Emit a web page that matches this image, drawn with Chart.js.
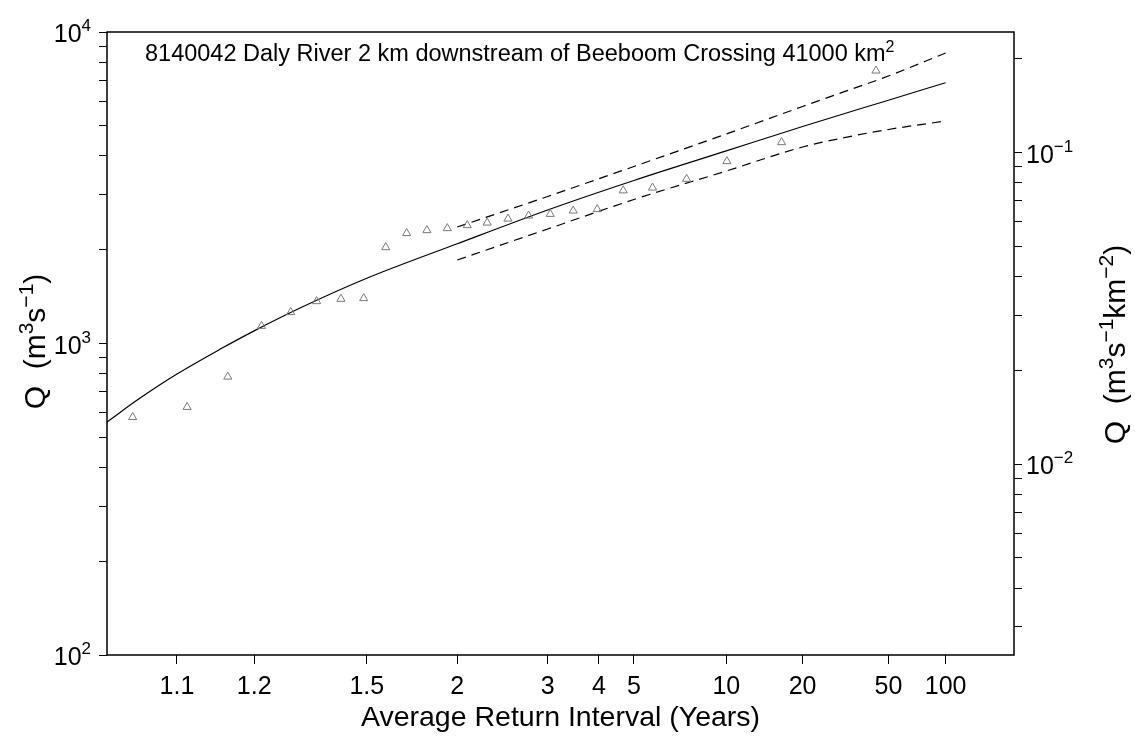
<!DOCTYPE html>
<html>
<head>
<meta charset="utf-8">
<script src="https://cdn.jsdelivr.net/npm/chart.js@4.4.1/dist/chart.umd.min.js"></script>
<style>
  html, body { margin: 0; padding: 0; background: #ffffff; }
  #wrap { width: 1135px; height: 736px; position: relative; }
</style>
</head>
<body>
<div id="wrap"><canvas id="c" width="1135" height="736"></canvas></div>
<script>
// Station details
const stationTitle = '8140042 Daly River 2 km downstream of Beeboom Crossing 41000 km';
const catchmentArea = 41000; // km^2

// Annual maxima (plotted at their average return intervals)
const pointARI = [1.065, 1.110, 1.159, 1.213, 1.272, 1.336, 1.408, 1.488, 1.579, 1.680,
                  1.794, 1.927, 2.079, 2.256, 2.472, 2.725, 3.040, 3.444, 3.960, 4.660,
                  5.678, 7.283, 10.05, 16.34, 43.4];
const pointQ   = [580, 625, 782, 1138, 1260, 1366, 1390, 1397, 2036, 2259,
                  2309, 2343, 2396, 2442, 2515, 2572, 2604, 2669, 2697, 3098,
                  3163, 3374, 3846, 4425, 7513];

// Fitted frequency curve
const fitARI = [1.05, 1.07, 1.1, 1.15, 1.2, 1.3, 1.5, 2, 3, 5, 10, 20, 50, 100];
const fitQ   = [560, 668, 798, 963, 1098, 1312, 1620, 2090, 2683, 3337, 4152, 4973, 6040, 6874];

// Confidence limits
const ciARI   = [2, 3, 5, 10, 20, 30, 50, 100];
const upperQ  = [2366, 2965, 3701, 4706, 5766, 6399, 7224, 8562];
const lowerQ  = [1854, 2331, 2900, 3579, 4273, 4567, 4864, 5180];

// Axis ticks
const xTickARI = [1.1, 1.2, 1.5, 2, 3, 4, 5, 10, 20, 50, 100];
const xTickLabels = ['1.1', '1.2', '1.5', '2', '3', '4', '5', '10', '20', '50', '100'];
const xRangeARI = [1.05, 250];
const qMajor = [100, 1000, 10000];
const qMajorExp = ['2', '3', '4'];
const qMinor = [200, 300, 400, 500, 600, 700, 800, 900, 2000, 3000, 4000, 5000, 6000, 7000, 8000, 9000];
const qsMajor = [0.01, 0.1];
const qsMajorExp = ['\u22122', '\u22121'];
const qsMinor = [0.003, 0.004, 0.005, 0.006, 0.007, 0.008, 0.009,
                 0.02, 0.03, 0.04, 0.05, 0.06, 0.07, 0.08, 0.09, 0.2];

// Inverse standard normal CDF (Acklam)
function qnorm(p) {
  const a = [-3.969683028665376e+01, 2.209460984245205e+02, -2.759285104469687e+02,
             1.383577518672690e+02, -3.066479806614716e+01, 2.506628277459239e+00];
  const b = [-5.447609879822406e+01, 1.615858368580409e+02, -1.556989798598866e+02,
             6.680131188771972e+01, -1.328068155288572e+01];
  const c = [-7.784894002430293e-03, -3.223964580411365e-01, -2.400758277161838e+00,
             -2.549732539343734e+00, 4.374664141464968e+00, 2.938163982698783e+00];
  const d = [7.784695709041462e-03, 3.224671290700398e-01, 2.445134137142996e+00,
             3.754408661907416e+00];
  const plow = 0.02425, phigh = 1 - plow;
  let q, r;
  if (p < plow) {
    q = Math.sqrt(-2 * Math.log(p));
    return (((((c[0]*q + c[1])*q + c[2])*q + c[3])*q + c[4])*q + c[5]) /
           ((((d[0]*q + d[1])*q + d[2])*q + d[3])*q + 1);
  }
  if (p <= phigh) {
    q = p - 0.5; r = q * q;
    return (((((a[0]*r + a[1])*r + a[2])*r + a[3])*r + a[4])*r + a[5]) * q /
           (((((b[0]*r + b[1])*r + b[2])*r + b[3])*r + b[4])*r + 1);
  }
  q = Math.sqrt(-2 * Math.log(1 - p));
  return -(((((c[0]*q + c[1])*q + c[2])*q + c[3])*q + c[4])*q + c[5]) /
          ((((d[0]*q + d[1])*q + d[2])*q + d[3])*q + 1);
}
// Average return interval -> normal probability axis coordinate
const ariToZ = t => qnorm(1 - 1 / t);
const toXY = (ari, q) => ari.map((t, i) => ({ x: ariToZ(t), y: q[i] }));

const FONT = '"Liberation Sans", Arial, Helvetica, sans-serif';

// Draws a run of text pieces, some of them superscripts
function richWidth(ctx, parts, size, supSize) {
  let w = 0;
  for (const p of parts) {
    ctx.font = (p.sup ? supSize : size) + 'px ' + FONT;
    w += ctx.measureText(p.t).width;
  }
  return w;
}
function drawRich(ctx, parts, x, y, size, supSize, supRise) {
  let cx = x;
  for (const p of parts) {
    ctx.font = (p.sup ? supSize : size) + 'px ' + FONT;
    ctx.fillText(p.t, cx, p.sup ? y - supRise : y);
    cx += ctx.measureText(p.t).width;
  }
}

const textPlugin = {
  id: 'frameAndText',
  afterDraw(chart) {
    const ctx = chart.ctx;
    const area = chart.chartArea;
    ctx.save();
    ctx.strokeStyle = '#000';
    ctx.lineWidth = 1.5;
    ctx.strokeRect(area.left, area.top, area.right - area.left, area.bottom - area.top);

    ctx.fillStyle = '#000';
    ctx.textBaseline = 'alphabetic';
    ctx.textAlign = 'left';

    // Left axis labels
    const yl = chart.scales.y;
    qMajor.forEach((v, i) => {
      const py = yl.getPixelForValue(v);
      const parts = [{ t: '10' }, { t: qMajorExp[i], sup: true }];
      const w = richWidth(ctx, parts, 25, 17);
      drawRich(ctx, parts, 91 - w, py + 10, 25, 17, 11);
    });
    // Right axis labels
    const yr = chart.scales.y2;
    qsMajor.forEach((v, i) => {
      const py = yr.getPixelForValue(v);
      const parts = [{ t: '10' }, { t: qsMajorExp[i], sup: true }];
      drawRich(ctx, parts, 1026, py + 10, 25, 17, 11);
    });

    // Axis titles
    const cy = (area.top + area.bottom) / 2;
    const leftParts = [{ t: 'Q  (m' }, { t: '3', sup: true }, { t: 's' }, { t: '\u22121', sup: true }, { t: ')' }];
    ctx.save();
    ctx.translate(45, cy - 2);
    ctx.rotate(-Math.PI / 2);
    let w = richWidth(ctx, leftParts, 30, 21);
    drawRich(ctx, leftParts, -w / 2, 0, 30, 21, 12);
    ctx.restore();

    const rightParts = [{ t: 'Q  (m' }, { t: '3', sup: true }, { t: 's' }, { t: '\u22121', sup: true },
                        { t: 'km' }, { t: '\u22122', sup: true }, { t: ')' }];
    ctx.save();
    ctx.translate(1125, cy + 1);
    ctx.rotate(-Math.PI / 2);
    w = richWidth(ctx, rightParts, 30, 21);
    drawRich(ctx, rightParts, -w / 2, 0, 30, 21, 12);
    ctx.restore();

    // Station heading
    drawRich(ctx, [{ t: stationTitle }, { t: '2', sup: true }], 145, 61, 23.5, 16, 9);
    ctx.restore();
  }
};

const blackTicks = (len) => ({
  display: true, drawOnChartArea: false, drawTicks: true, tickLength: len,
  color: '#000', lineWidth: 1
});

new Chart(document.getElementById('c'), {
  type: 'line',
  data: {
    datasets: [
      {
        label: 'Annual maxima',
        data: toXY(pointARI, pointQ),
        showLine: false,
        pointStyle: 'triangle',
        pointRadius: 4.7,
        pointBorderWidth: 1,
        pointBorderColor: '#7a7a7a',
        pointBackgroundColor: 'rgba(0,0,0,0)',
        yAxisID: 'y'
      },
      {
        label: 'Fitted',
        data: toXY(fitARI, fitQ),
        borderColor: '#000',
        borderWidth: 1.2,
        pointRadius: 0,
        cubicInterpolationMode: 'monotone',
        fill: false,
        yAxisID: 'y'
      },
      {
        label: 'Upper limit',
        data: toXY(ciARI, upperQ),
        borderColor: '#000',
        borderWidth: 1.2,
        borderDash: [9, 6],
        pointRadius: 0,
        cubicInterpolationMode: 'monotone',
        fill: false,
        yAxisID: 'y'
      },
      {
        label: 'Lower limit',
        data: toXY(ciARI, lowerQ),
        borderColor: '#000',
        borderWidth: 1.2,
        borderDash: [9, 6],
        pointRadius: 0,
        cubicInterpolationMode: 'monotone',
        fill: false,
        yAxisID: 'y'
      }
    ]
  },
  options: {
    responsive: false,
    animation: false,
    devicePixelRatio: 1,
    layout: { padding: { top: 32, left: 0, right: 0, bottom: 0 } },
    plugins: { legend: { display: false }, tooltip: { enabled: false } },
    scales: {
      x: {
        type: 'linear',
        position: 'bottom',
        bounds: 'data',
        min: ariToZ(xRangeARI[0]),
        max: ariToZ(xRangeARI[1]),
        border: { display: false },
        grid: blackTicks(9),
        afterBuildTicks: s => { s.ticks = xTickARI.map(t => ({ value: ariToZ(t) })); },
        afterFit: s => { s.height = 81; },
        ticks: {
          autoSkip: false, maxRotation: 0, minRotation: 0,
          padding: 8, color: '#000',
          font: { family: FONT, size: 25 },
          callback: (v, i) => xTickLabels[i]
        },
        title: {
          display: true,
          text: 'Average Return Interval (Years)',
          color: '#000',
          font: { family: FONT, size: 28.5 },
          padding: { top: 0, bottom: 1 }
        }
      },
      y: {
        type: 'logarithmic',
        position: 'left',
        bounds: 'data',
        min: 100,
        max: 10000,
        border: { display: false },
        grid: blackTicks(8),
        afterBuildTicks: s => {
          s.ticks = qMajor.concat(qMinor).sort((a, b) => a - b).map(v => ({ value: v }));
        },
        afterFit: s => { s.width = 107; },
        ticks: { display: false }
      },
      y2: {
        type: 'logarithmic',
        position: 'right',
        bounds: 'data',
        min: 100 / catchmentArea,
        max: 10000 / catchmentArea,
        border: { display: false },
        grid: blackTicks(8),
        afterBuildTicks: s => {
          s.ticks = qsMajor.concat(qsMinor)
            .filter(v => v >= 100 / catchmentArea && v <= 10000 / catchmentArea)
            .sort((a, b) => a - b).map(v => ({ value: v }));
        },
        afterFit: s => { s.width = 121; },
        ticks: { display: false }
      }
    }
  },
  plugins: [textPlugin]
});
</script>
</body>
</html>
